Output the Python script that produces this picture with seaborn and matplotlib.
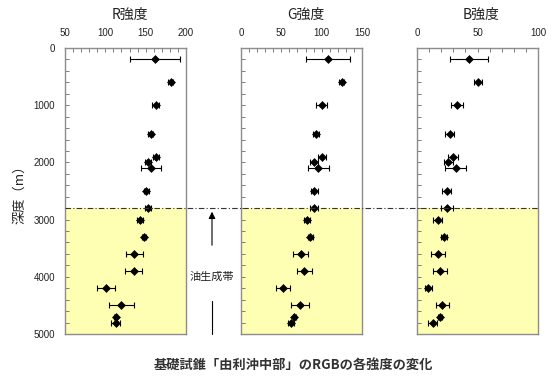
import numpy as np
import pandas as pd
import matplotlib
matplotlib.use("Agg")
import matplotlib.pyplot as plt
from matplotlib.ticker import MultipleLocator
import seaborn as sns

sns.set_theme(style="white")
plt.rcParams["font.family"] = ["Liberation Sans", "Noto Sans CJK JP", "DejaVu Sans"]

# Depth of each sample (m)
depth = [200, 600, 1000, 1500, 1900, 2000, 2100, 2500, 2800,
         3000, 3300, 3600, 3900, 4200, 4500, 4700, 4800]

# Mean intensity and spread for each colour channel
r_mean = [161, 181, 162.5, 156, 163, 153, 157, 151, 153,
          143, 148, 136, 135, 100.5, 119.5, 113, 113]
r_err = [31, 3, 4.5, 3, 4, 4, 12.5, 3, 4,
         4, 3, 11, 11, 11, 15.5, 2, 5.5]

g_mean = [108, 125, 100, 93, 100, 91, 96, 91, 91,
          82, 86, 74, 78.5, 52, 73, 66, 62]
g_err = [27, 3, 6.5, 4, 5, 5, 13, 4, 5,
         4, 3, 9.5, 9.3, 8.7, 11, 2, 4]

b_mean = [43, 50.5, 33, 27, 30, 26, 32, 24.5, 25,
          17, 22, 17, 19, 9.5, 21, 19, 13]
b_err = [15.7, 3, 4.7, 3.5, 4, 4, 8.7, 4, 5,
         3.5, 2.5, 5.8, 5.5, 3, 5.5, 1.5, 3.5]

panel_titles = ["R強度", "G強度", "B強度"]
x_limits = [(50, 200), (0, 150), (0, 100)]
x_majors = [50, 50, 50]
oil_top = 2800
depth_max = 5000

df = pd.DataFrame({"depth": depth,
                   "R": r_mean, "R_err": r_err,
                   "G": g_mean, "G_err": g_err,
                   "B": b_mean, "B_err": b_err})

W, H = 553, 381
fig = plt.figure(figsize=(W / 100, H / 100), dpi=100)

panel_left = [65, 241, 417]
panel_w = 121
top_px, bot_px = 48, 334

spine_col = "#8c8c8c"
fill_col = "#FFFFB3"

axes = []
for i, ch in enumerate(["R", "G", "B"]):
    ax = fig.add_axes([panel_left[i] / W, 1 - bot_px / H,
                       panel_w / W, (bot_px - top_px) / H])
    axes.append(ax)
    ax.axhspan(oil_top, depth_max, color=fill_col, zorder=0, lw=0)
    ax.errorbar(df[ch], df["depth"], xerr=df[ch + "_err"], fmt="none",
                ecolor="black", elinewidth=0.8, capsize=2.2, capthick=0.8,
                zorder=3)
    sns.scatterplot(data=df, x=ch, y="depth", ax=ax, marker="D", s=16,
                    color="black", edgecolor="black", linewidth=0.5,
                    zorder=4, legend=False)
    ax.set_xlim(*x_limits[i])
    ax.set_ylim(depth_max, 0)
    ax.xaxis.set_major_locator(MultipleLocator(x_majors[i]))
    ax.xaxis.set_minor_locator(MultipleLocator(10))
    ax.yaxis.set_major_locator(MultipleLocator(1000))
    ax.yaxis.set_minor_locator(MultipleLocator(200))
    ax.xaxis.tick_top()
    ax.tick_params(axis="x", which="both", direction="in", top=True,
                   bottom=False, length=3, width=0.6, color="#666666",
                   labelsize=7, pad=7, labelcolor="#222222")
    ax.tick_params(axis="y", which="both", direction="in", left=True,
                   right=False, length=3, width=0.6, color="#666666",
                   labelsize=7, labelcolor="#222222", pad=7)
    ax.set_xlabel("")
    ax.set_ylabel("")
    if i > 0:
        ax.set_yticklabels([])
    for s in ax.spines.values():
        s.set_color(spine_col)
        s.set_linewidth(1.0)
    ax.set_facecolor("white")
    # Channel heading above the tick labels
    fig.text((panel_left[i] + panel_w / 2 + 4) / W, 1 - 15 / H,
             panel_titles[i], ha="center", va="center", fontsize=10,
             family=["Noto Sans CJK JP"], color="#222222")

# Dash-dot boundary of the oil generation zone across all panels
y_line = axes[0].transData.transform((0, oil_top))[1] / (H)
x0 = panel_left[0] / W
x1 = (panel_left[2] + panel_w) / W
fig.add_artist(plt.Line2D([x0, x1], [y_line, y_line], color="#333333",
                          lw=0.8, ls=(0, (5, 2, 1, 2)), zorder=5))

# Oil generation zone annotation between R and G panels
xm = 212 / W
fig.add_artist(plt.Line2D([xm, xm], [1 - 301 / H, 1 - 334 / H],
                          color="black", lw=0.8))
fig.patches.append(matplotlib.patches.FancyArrowPatch(
    (xm, 1 - 248 / H), (xm, y_line - 0.002), transform=fig.transFigure,
    arrowstyle="-|>,head_length=4,head_width=2", color="black", lw=0.8,
    mutation_scale=1))
fig.text(xm, 1 - 277 / H, "油生成帯", ha="center", va="center",
         fontsize=8, family=["Noto Sans CJK JP"], color="#222222")

fig.text(20 / W, 1 - 191 / H, "深度（m）", rotation=90, ha="center",
         va="center", fontsize=9.5, family=["Noto Sans CJK JP"],
         color="#222222")

fig.text(293 / W, 1 - 365 / H, "基礎試錐「由利沖中部」のRGBの各強度の変化",
         ha="center", va="center", fontsize=9.5, fontweight="bold",
         family=["Noto Sans CJK JP"], color="#333333")

fig.savefig("out.png", dpi=100)
